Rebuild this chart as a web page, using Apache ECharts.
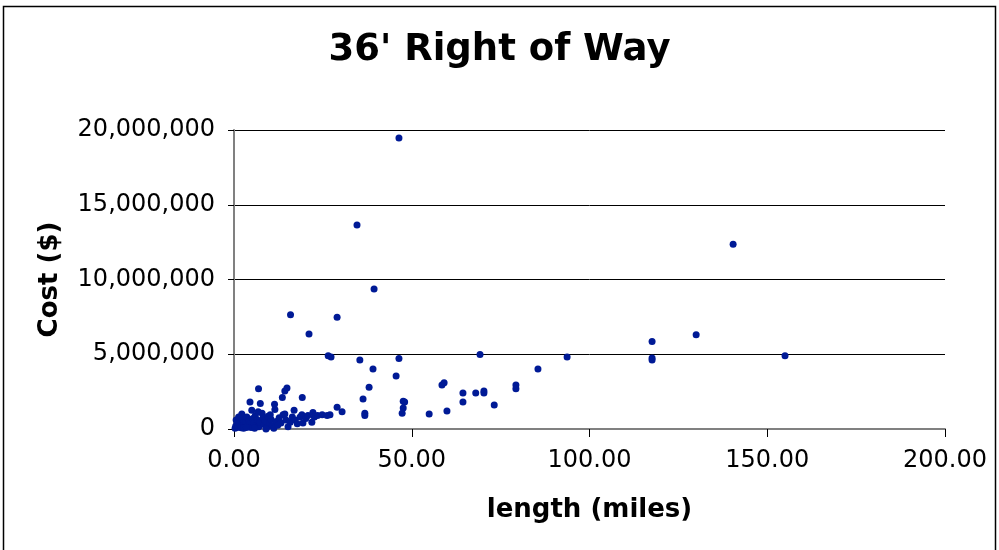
<!DOCTYPE html>
<html>
<head>
<meta charset="utf-8">
<script src="https://cdn.jsdelivr.net/npm/echarts@6/dist/echarts.min.js"></script>
<style>
  html, body { margin: 0; padding: 0; background: #fff; }
  #main { width: 999px; height: 550px; }
</style>
</head>
<body>
<div id="main"></div>
<script>
// length (miles), cost ($)
const lengths = [
    46.4, 34.6, 140.4, 39.4, 15.9, 29.0, 21.1, 130.0, 117.6, 69.2,
    26.5, 27.3, 155.0, 93.7, 117.6, 117.6, 35.4, 46.4, 39.1, 85.5,
    45.6, 59.1, 58.5, 79.3, 38.0, 79.3, 70.3, 14.9, 14.3, 6.9,
    64.4, 68.0, 70.3, 13.6, 19.2, 36.3, 47.6, 48.0, 64.4, 4.5,
    7.4, 11.4, 73.2, 47.6, 29.0, 30.4, 59.9, 54.9, 47.3, 36.8,
    36.8, 27.0,
    0.3, 0.5, 0.8, 1.0, 1.2, 1.5, 1.8, 2.0, 2.2, 2.5,
    2.8, 3.0, 3.3, 3.6, 3.9, 4.2, 4.5, 4.8, 5.0, 5.3,
    5.6, 6.0, 6.3, 6.6, 7.0, 7.3, 7.9, 8.2, 8.5, 8.8,
    9.2, 9.6, 10.0, 10.4, 10.8, 11.2, 11.5, 11.9, 12.3, 12.7,
    13.2, 13.8, 14.3, 14.6, 15.2, 15.8, 16.4, 16.9, 17.2, 17.8,
    18.6, 19.1, 19.4, 20.2, 20.8, 21.9, 22.2, 22.6, 23.5, 24.8,
    26.2, 0.6, 1.3, 2.7, 3.5, 5.8, 9.0, 6.8, 10.2
];
const costs = [
    19460000, 13650000, 12350000, 9360000, 7650000, 7480000, 6350000, 6300000, 5850000, 4980000,
    4900000, 4820000, 4900000, 4820000, 4750000, 4620000, 4620000, 4720000, 4020000, 4020000,
    3550000, 3100000, 2950000, 2950000, 2800000, 2700000, 2550000, 2750000, 2550000, 2700000,
    2400000, 2400000, 2400000, 2100000, 2100000, 2000000, 1850000, 1800000, 1800000, 1800000,
    1700000, 1650000, 1600000, 1400000, 1450000, 1150000, 1200000, 1000000, 1050000, 1050000,
    900000, 950000,
    50000, 200000, 100000, 350000, 150000, 500000, 250000, 80000, 1000000, 650000,
    300000, 150000, 450000, 800000, 200000, 550000, 350000, 100000, 1250000, 700000,
    400000, 900000, 250000, 600000, 150000, 450000, 1050000, 750000, 300000, 550000,
    100000, 850000, 400000, 650000, 200000, 50000, 1300000, 500000, 250000, 750000,
    400000, 950000, 1000000, 600000, 150000, 450000, 800000, 1250000, 600000, 350000,
    800000, 950000, 400000, 700000, 900000, 450000, 1100000, 800000, 900000, 950000,
    900000, 600000, 800000, 50000, 100000, 50000, 0, 1150000, 950000
];

const points = lengths.map((x, i) => [x, costs[i]]);
const font = 'DejaVu Sans, Verdana, sans-serif';

let myChart = echarts.init(document.getElementById('main'));
myChart.setOption({
    animation: false,
    backgroundColor: '#fff',
    title: {
        text: "36' Right of Way",
        left: 'center',
        top: 27,
        textStyle: {
            fontFamily: font,
            fontWeight: 'bold',
            fontSize: 37,
            color: '#000'
        }
    },
    grid: {
        left: 234,
        right: 54,
        top: 130,
        bottom: 121
    },
    graphic: [{
        type: 'rect',
        shape: { x: 3.5, y: 6.5, width: 992, height: 560 },
        style: { fill: 'none', stroke: '#000', lineWidth: 1.5 },
        silent: true
    }],
    xAxis: {
        type: 'value',
        min: 0,
        max: 200,
        interval: 50,
        name: 'length (miles)',
        nameLocation: 'middle',
        nameGap: 68,
        nameTextStyle: { fontFamily: font, fontWeight: 'bold', fontSize: 26, color: '#000' },
        axisLine: { show: true, lineStyle: { color: '#808080', width: 2 } },
        axisTick: { show: true, length: 8, lineStyle: { color: '#000' } },
        axisLabel: {
            fontFamily: font, fontSize: 24, color: '#000', margin: 20,
            formatter: v => v.toFixed(2)
        },
        splitLine: { show: false }
    },
    yAxis: {
        type: 'value',
        min: 0,
        max: 20000000,
        interval: 5000000,
        name: 'Cost ($)',
        nameLocation: 'middle',
        nameGap: 171,
        nameRotate: 90,
        nameTextStyle: { fontFamily: font, fontWeight: 'bold', fontSize: 26, color: '#000' },
        axisLine: { show: true, lineStyle: { color: '#808080', width: 2 } },
        axisTick: { show: true, length: 6, lineStyle: { color: '#000' } },
        axisLabel: {
            fontFamily: font, fontSize: 24, color: '#000', margin: 19,
            formatter: v => v.toLocaleString('en-US')
        },
        splitLine: { show: true, lineStyle: { color: '#000', width: 1 } }
    },
    series: [{
        type: 'scatter',
        symbol: 'circle',
        symbolSize: 7,
        itemStyle: { color: '#001a96', opacity: 1 },
        data: points
    }]
});
</script>
</body>
</html>
